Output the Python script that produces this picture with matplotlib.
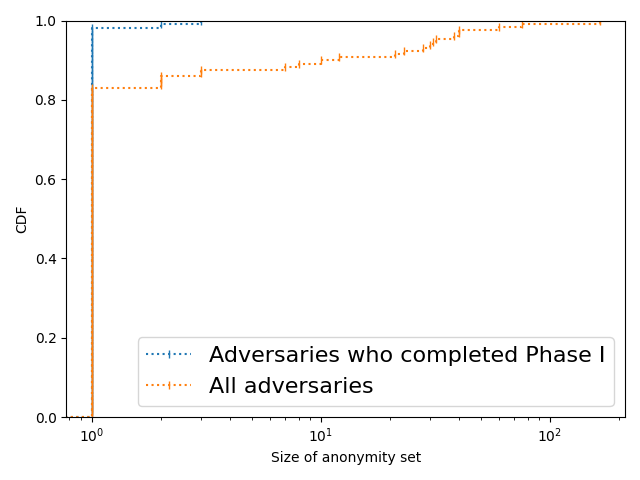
import numpy as np
import matplotlib
matplotlib.use("Agg")
import matplotlib.pyplot as plt

# Anonymity set sizes (value -> count)
phase1_values = [1, 2, 3]
phase1_counts = [110, 1, 1]

all_values = [1, 2, 3, 7, 8, 10, 12, 21, 23, 28, 30, 31, 32, 38, 40, 60, 76, 165]
all_counts = [107, 4, 2, 1, 1, 1, 1, 1, 1, 1, 1, 1, 1, 1, 2, 1, 1, 1]

labels = ["Adversaries who completed Phase I", "All adversaries"]


def cdf_points(values, counts):
    data = np.sort(np.repeat(values, counts)).astype(float)
    n = len(data)
    x = np.concatenate([[0.0], data])
    y = np.concatenate([[0.0], np.arange(1, n + 1) / n])
    return x, y


fig, ax = plt.subplots(figsize=(6.4, 4.8), dpi=100)
for vals, cnts, lab in [(phase1_values, phase1_counts, labels[0]),
                        (all_values, all_counts, labels[1])]:
    x, y = cdf_points(vals, cnts)
    ax.plot(x, y, drawstyle="steps-post", linestyle=":", marker="|", label=lab)

ax.set_xscale("log")
ax.set_ylim(0, 1)
ax.set_xlabel("Size of anonymity set")
ax.set_ylabel("CDF")
ax.legend(loc="lower right", fontsize=16)
fig.tight_layout()
fig.savefig("out.png")
